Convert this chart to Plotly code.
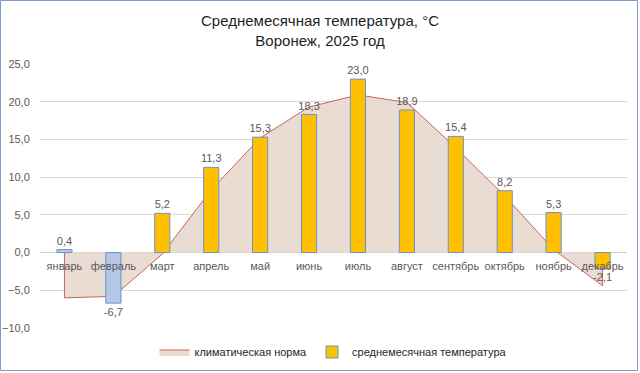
import plotly.graph_objects as go

months = ["январь", "февраль", "март", "апрель", "май", "июнь",
          "июль", "август", "сентябрь", "октябрь", "ноябрь", "декабрь"]
temp_2025 = [0.4, -6.7, 5.2, 11.3, 15.3, 18.3, 23.0, 18.9, 15.4, 8.2, 5.3, -2.1]
climate_norm = [-6.0, -5.8, -0.2, 8.3, 15.2, 19.3, 20.9, 19.9, 13.9, 7.5, 0.4, -4.4]
blue_months = ["январь", "февраль"]  # bars shown in light blue
y_ticks = [-10, -5, 0, 5, 10, 15, 20, 25]

W, H = 640, 373
L, R, T, B = 40, 13, 64, 45
pw, ph = W - L - R, H - T - B

# closed outline of the norm area (vertical edges at first / last month)
x_poly = [months[0]] + months + [months[-1]]
y_poly = [0] + climate_norm + [0]

yellow_vals = [v if m not in blue_months else None for m, v in zip(months, temp_2025)]
blue_vals = [v if m in blue_months else None for m, v in zip(months, temp_2025)]

fig = go.Figure()
fig.add_trace(go.Scatter(
    x=x_poly, y=y_poly, mode="lines", fill="tozeroy",
    fillcolor="#E9DDD3", line=dict(color="#C9625F", width=1),
    name="климатическая норма", hoverinfo="skip",
))
bar_common = dict(
    xaxis="x2", yaxis="y2", width=0.31,
    texttemplate="%{y:.1f}", textposition="outside", constraintext="none",
    textfont=dict(size=11, color="#595959"), cliponaxis=False,
)
fig.add_trace(go.Bar(
    x=months, y=yellow_vals, name="среднемесячная температура",
    marker=dict(color="#FFC000", line=dict(color="#6F91C6", width=1)),
    **bar_common,
))
fig.add_trace(go.Bar(
    x=months, y=blue_vals, name="среднемесячная температура", showlegend=False,
    marker=dict(color="#B4C7E7", line=dict(color="#6F91C6", width=1)),
    **bar_common,
))

ymin, ymax = -10, 25
zero_pos = (0 - ymin) / (ymax - ymin)

fig.update_layout(
    width=W, height=H,
    margin=dict(l=L, r=R, t=T, b=B, autoexpand=False),
    paper_bgcolor="white", plot_bgcolor="white",
    separators=", ",
    font=dict(family="Liberation Sans, Arial, sans-serif"),
    title=dict(
        text="Среднемесячная температура, °C<br>Воронеж, 2025 год",
        x=0.5, xanchor="center", y=1 - 26 / H, yanchor="middle",
        font=dict(size=15, color="#1F1F1F"),
    ),
    barmode="overlay",
    xaxis=dict(
        type="category", categoryorder="array", categoryarray=months,
        range=[-0.5, 11.5], anchor="free", position=zero_pos,
        showgrid=False, zeroline=False, showline=False, automargin=False,
        ticks="outside", ticklen=3, tickcolor="rgba(0,0,0,0)",
        tickfont=dict(size=11, color="#595959"),
    ),
    yaxis=dict(
        range=[ymin, ymax], tickvals=y_ticks, tickformat=".1f",
        showgrid=True, gridcolor="#D9D9D9", gridwidth=1,
        zeroline=True, zerolinecolor="#D0D0D0", zerolinewidth=1,
        ticks="outside", ticklen=7, tickcolor="rgba(0,0,0,0)", automargin=False,
        tickfont=dict(size=11, color="#595959"),
    ),
    xaxis2=dict(
        type="category", categoryorder="array", categoryarray=months,
        range=[-0.5, 11.5], overlaying="x", visible=False,
    ),
    yaxis2=dict(range=[ymin, ymax], overlaying="y", visible=False),
    showlegend=True,
    legend=dict(
        orientation="h", x=0.5, xanchor="center", y=-24 / ph, yanchor="middle",
        font=dict(size=11, color="#262626"), traceorder="normal",
        bgcolor="rgba(0,0,0,0)",
    ),
    shapes=[dict(
        type="rect", xref="paper", yref="paper",
        x0=(0.5 - L) / pw, x1=(637.5 - L) / pw,
        y0=(T + ph - 370.5) / ph, y1=(T + ph - 0.5) / ph,
        line=dict(color="#7F9BC6", width=1), fillcolor="rgba(0,0,0,0)",
        layer="above",
    )],
)

fig.write_html("out.html", config={"displayModeBar": False},
               post_script="document.body.style.margin='0';")
